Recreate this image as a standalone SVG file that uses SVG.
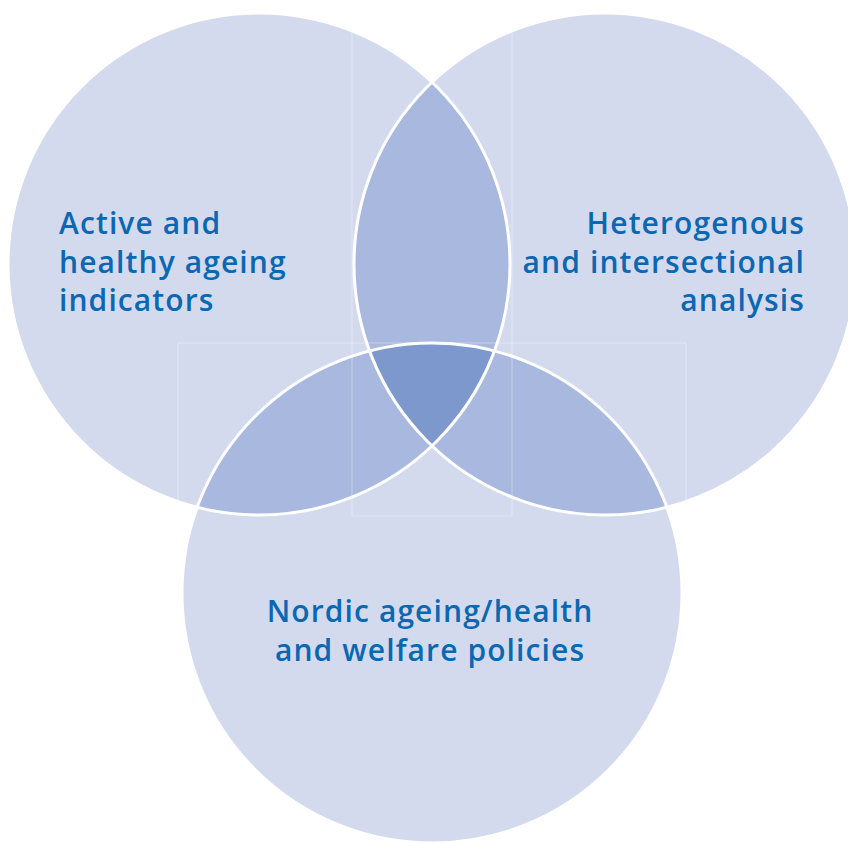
<svg xmlns="http://www.w3.org/2000/svg" width="848" height="843" viewBox="0 0 848 843">
<style>
.base{fill:#D4DAEE}
.two{fill:#A9B8DF}
.three{fill:#7D98CC}
.edge{fill:none;stroke:#FFFFFF;stroke-width:3}
.seam{fill:none;stroke:#FFFFFF;stroke-opacity:0.35;stroke-width:1}
.lbl{font-family:"Open Sans","Liberation Sans",sans-serif;font-size:30px;font-weight:600;fill:#0A68B2;letter-spacing:1.1px}
</style>
<defs>
<clipPath id="cA"><circle cx="259" cy="264" r="251"/></clipPath>
<clipPath id="cB"><circle cx="605" cy="264" r="251"/></clipPath>
<clipPath id="cC"><circle cx="432" cy="593" r="250"/></clipPath>
</defs>
<g id="circle-active">
<circle class="base" cx="259" cy="264" r="251"/>
</g>
<g id="circle-heterogenous">
<circle class="base" cx="605" cy="264" r="251"/>
</g>
<g id="circle-nordic">
<circle class="base" cx="432" cy="593" r="250"/>
</g>
<g id="overlaps">
<circle class="two" cx="605" cy="264" r="251" clip-path="url(#cA)"/>
<circle class="two" cx="432" cy="593" r="250" clip-path="url(#cA)"/>
<circle class="two" cx="432" cy="593" r="250" clip-path="url(#cB)"/>
<g clip-path="url(#cA)"><circle class="three" cx="432" cy="593" r="250" clip-path="url(#cB)"/></g>
</g>
<g id="seams">
<path class="seam" d="M352 32V516M512 32V516M178 343H686M178 343V516M686 343V516M352 516H512"/>
</g>
<g id="outlines">
<circle class="edge" cx="259" cy="264" r="251"/>
<circle class="edge" cx="605" cy="264" r="251"/>
<circle class="edge" cx="432" cy="593" r="250"/>
</g>
<g id="label-active">
<text class="lbl" x="59" y="234">Active and</text>
<text class="lbl" x="59" y="273">healthy ageing</text>
<text class="lbl" x="59" y="311">indicators</text>
</g>
<g id="label-heterogenous" text-anchor="end">
<text class="lbl" x="805" y="234">Heterogenous</text>
<text class="lbl" x="805" y="273">and intersectional</text>
<text class="lbl" x="805" y="311">analysis</text>
</g>
<g id="label-nordic" text-anchor="middle">
<text class="lbl" x="430" y="622">Nordic ageing/health</text>
<text class="lbl" x="430" y="661">and welfare policies</text>
</g>
</svg>
